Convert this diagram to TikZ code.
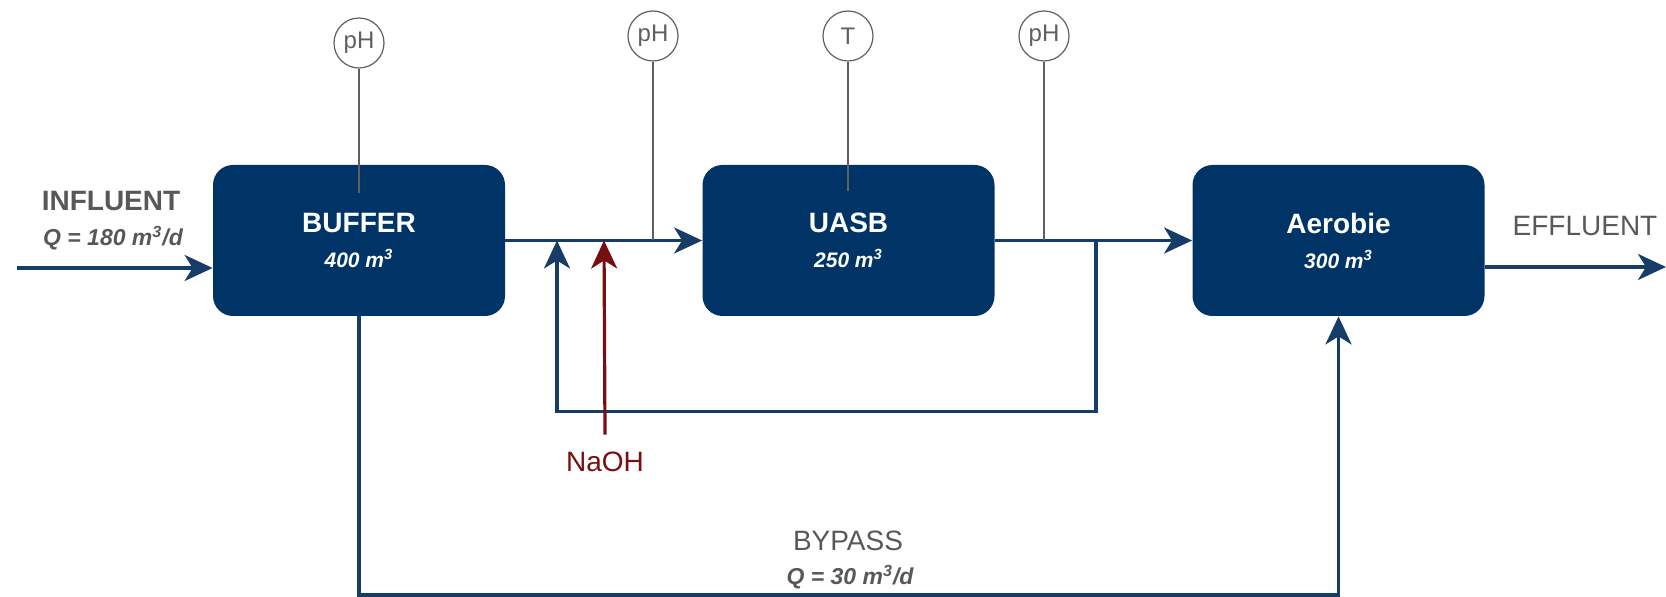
\documentclass[tikz,border=0pt]{standalone}
\usepackage{fontspec}
\setmainfont{Liberation Sans}
\usepackage{xcolor}
\usetikzlibrary{arrows.meta}

\definecolor{tankblue}{RGB}{0,51,102}
\definecolor{pipeblue}{RGB}{24,60,104}
\definecolor{labelgray}{RGB}{88,88,88}
\definecolor{sensorgray}{RGB}{95,95,95}
\definecolor{naohred}{RGB}{120,14,14}

\newcommand{\tankvol}[1]{{\fontsize{10.5}{12}\selectfont\bfseries\itshape #1 m\textsuperscript{3}}}

\begin{document}
\begin{tikzpicture}[
  x=0.5pt, y=-0.5pt,
  font=\fontsize{14}{17}\selectfont,
  tank/.style={fill=tankblue, rounded corners=10pt, minimum width=146pt, minimum height=75.5pt, align=center, text=white, font=\fontsize{14}{17.5}\selectfont\bfseries},
  sensor/.style={draw=sensorgray, circle, line width=0.6pt, minimum size=25pt, inner sep=0pt, text=sensorgray, font=\fontsize{12}{14}\selectfont},
  lbl/.style={text=labelgray, inner sep=0pt},
  qlbl/.style={text=labelgray, inner sep=0pt, font=\fontsize{11.5}{13}\selectfont\bfseries\itshape},
  flow/.style={draw=pipeblue, line width=1.6pt, -{Stealth[length=14pt, width=13pt, inset=4pt]}},
  dose/.style={draw=naohred, line width=1.6pt, -{Stealth[length=14pt, width=13pt, inset=4pt]}},
  sig/.style={draw=sensorgray, line width=0.8pt},
]
  \useasboundingbox (0,0) rectangle (1666,597);

  % reactors
  \node[tank] (buffer) at (359,240.5) {BUFFER\\\tankvol{400}};
  \node[tank] (uasb) at (848.5,240.5) {UASB\\\tankvol{250}};
  \node[tank] (aerobie) at (1338.5,240.5) {Aerobie\\\tankvol{300}};

  % sensors
  \node[sensor] (ph1) at (359,43) {pH};
  \node[sensor] (ph2) at (653,36) {pH};
  \node[sensor] (temp) at (848,36) {T};
  \node[sensor] (ph3) at (1044,36) {pH};

  % labels
  \node[lbl, font=\fontsize{14}{17}\selectfont\bfseries] (influent) at (111,201) {INFLUENT};
  \node[qlbl] (qin) at (113,238) {Q = 180 m\textsuperscript{3}/d};
  \node[lbl] (effluent) at (1585,226) {EFFLUENT};
  \node[lbl] (bypass) at (848,541) {BYPASS};
  \node[qlbl] (qbyp) at (850,577) {Q = 30 m\textsuperscript{3}/d};
  \node[lbl, text=naohred] (naoh) at (605,462) {NaOH};

  \coordinate (in) at (17,268);
  \coordinate (out) at (1666,267);
  \coordinate (rsplit) at (1096,240.5);
  \coordinate (rjoin) at (557,240.5);
  \coordinate (dosing) at (604,240.5);
  \coordinate (byp) at (359,595);

  % main line
  \draw[flow] (in) -- (in -| buffer.west);
  \draw[flow] (buffer.east) -- (uasb.west);
  \draw[flow] (uasb.east) -- (aerobie.west);
  \draw[flow] (aerobie.east |- out) -- (out);

  % recirculation, dosing and bypass
  \draw[flow] (rsplit) -- ++(0,171) -| (rjoin);
  \draw[dose] ([yshift=8.5pt]naoh.north) -- (dosing);
  \draw[flow] (buffer.south) -- (byp) -| (aerobie.south);

  % measurement lines
  \draw[sig] (ph1) -- ([yshift=-14pt]buffer.north);
  \draw[sig] (ph2) -- (ph2 |- buffer.east);
  \draw[sig] (temp) -- ([yshift=-13pt]temp |- uasb.north);
  \draw[sig] (ph3) -- (ph3 |- uasb.east);
\end{tikzpicture}
\end{document}
